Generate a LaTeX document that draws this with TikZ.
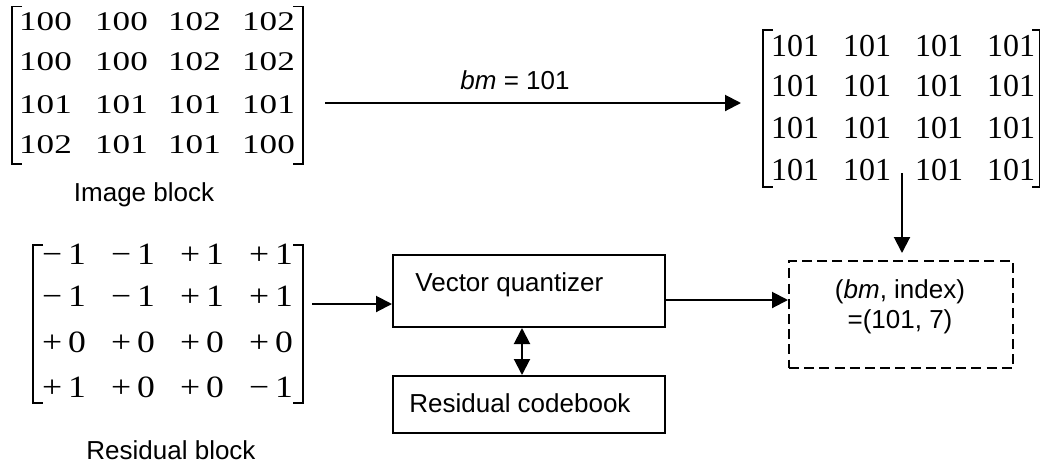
\documentclass[tikz,border=0pt]{standalone}
\usepackage{fontspec}
\setmainfont{Liberation Sans}
\newfontfamily\numfont{Liberation Serif}
\usepackage{graphicx}
\usetikzlibrary{arrows.meta}

% matrix entries, widened horizontally
\newcommand\wnum[1]{\scalebox{1.3}[1]{#1}}
\newcommand\rnum[1]{\scalebox{1.15}[1]{#1}}

\begin{document}
\begin{tikzpicture}[x=0.5pt,y=-0.5pt,
  conn/.style={line width=1pt,-{Triangle[length=8pt,width=8pt]}},
  twoway/.style={line width=1pt,{Triangle[length=8pt,width=8pt]}-{Triangle[length=8pt,width=8pt]}},
  brk/.style={line width=0.7pt},
  cellA/.style={inner sep=0pt,font=\numfont\fontsize{13.5}{13.5}\selectfont},
  cellB/.style={inner sep=0pt,font=\numfont\fontsize{16}{16}\selectfont},
  cellC/.style={inner sep=0pt,font=\numfont\fontsize{15.5}{15.5}\selectfont},
  lbl/.style={inner sep=0pt,font=\fontsize{13}{15}\selectfont},
  blockbox/.style={draw,line width=1pt,inner sep=0pt},
  region/.style={inner sep=0pt,outer sep=0pt,draw=none}
]
\useasboundingbox (0,0) rectangle (1040,462);

% ---------- image block ----------
\node[region,minimum width=145.5pt,minimum height=79pt] (img) at (157.5,85.5) {};
\draw[brk] (22,6.5) -- (12,6.5) -- (12,164) -- (22,164);
\draw[brk] (293,6.5) -- (303,6.5) -- (303,164) -- (293,164);
\foreach \r/\y/\a/\b/\c/\d in {1/22/100/100/102/102, 2/62/100/100/102/102,
                               3/105/101/101/101/101, 4/145/102/101/101/100}{
  \node[cellA] (i\r a) at (45.5,\y) {\wnum{\a}};
  \node[cellA] (i\r b) at (121.5,\y) {\wnum{\b}};
  \node[cellA] (i\r c) at (194.5,\y) {\wnum{\c}};
  \node[cellA] (i\r d) at (268.5,\y) {\wnum{\d}};
}
\node[lbl,anchor=base] (imglbl) at (144,201) {Image block};

% ---------- mean block ----------
\node[region,minimum width=138pt,minimum height=78.5pt] (mean) at (901,108.5) {};
\draw[brk] (773,30) -- (763,30) -- (763,187) -- (773,187);
\draw[brk] (1032,30) -- (1039.5,30) -- (1039.5,187) -- (1032,187);
\foreach \r/\y in {1/46, 2/86, 3/128, 4/170}{
  \node[cellB] (m\r a) at (795,\y) {101};
  \node[cellB] (m\r b) at (867,\y) {101};
  \node[cellB] (m\r c) at (939,\y) {101};
  \node[cellB] (m\r d) at (1011,\y) {101};
}

% ---------- residual block ----------
\node[region,minimum width=135pt,minimum height=79pt] (res) at (168,324) {};
\draw[brk] (43,245) -- (33,245) -- (33,403) -- (43,403);
\draw[brk] (293,245) -- (303,245) -- (303,403) -- (293,403);
\foreach \r/\y/\a/\b/\c/\d in {1/254/{−\,1}/{−\,1}/{+\,1}/{+\,1},
                               2/296/{−\,1}/{−\,1}/{+\,1}/{+\,1},
                               3/342/{+\,0}/{+\,0}/{+\,0}/{+\,0},
                               4/387/{+\,1}/{+\,0}/{+\,0}/{−\,1}}{
  \node[cellC] (r\r a) at (64,\y) {\rnum{\a}};
  \node[cellC] (r\r b) at (133,\y) {\rnum{\b}};
  \node[cellC] (r\r c) at (202,\y) {\rnum{\c}};
  \node[cellC] (r\r d) at (271,\y) {\rnum{\d}};
}
\node[lbl,anchor=base] (reslbl) at (171,459) {Residual block};

% ---------- processing boxes ----------
\node[blockbox,minimum width=136pt,minimum height=36pt] (vq) at (529,291) {};
\node[lbl,anchor=base west] (vqtxt) at (415,291) {Vector quantizer};
\node[blockbox,minimum width=136pt,minimum height=28.5pt] (cb) at (529,404.5) {};
\node[lbl,anchor=base west] (cbtxt) at (409,412) {Residual codebook};
\node[draw,line width=1pt,dash pattern=on 5pt off 2.6pt,inner sep=0pt,
      minimum width=112pt,minimum height=53.5pt] (out) at (901,314.5) {};
\node[lbl,anchor=base] (outtxt1) at (900,298) {(\textit{bm}, index)};
\node[lbl,anchor=base] (outtxt2) at (900,328) {=(101, 7)};

% ---------- connectors ----------
\coordinate (topA) at (325,103);
\coordinate (topB) at (741,103);
\draw[conn] (topA) -- (topB);
\node[lbl,anchor=base] (bmlbl) at (515,89) {\textit{bm} = 101};

\coordinate (down) at (902,173);
\draw[conn] (down) -- ([yshift=3.5pt]out.north -| down);

\coordinate (inlvl) at (312,304);
\draw[conn] (inlvl) -- (vq.west |- inlvl);

\coordinate (outlvl) at (0,300);
\draw[conn] (vq.east |- outlvl) -- (out.west |- outlvl);

\coordinate (link) at (522,0);
\draw[twoway] (vq.south -| link) -- (cb.north -| link);
\end{tikzpicture}
\end{document}
